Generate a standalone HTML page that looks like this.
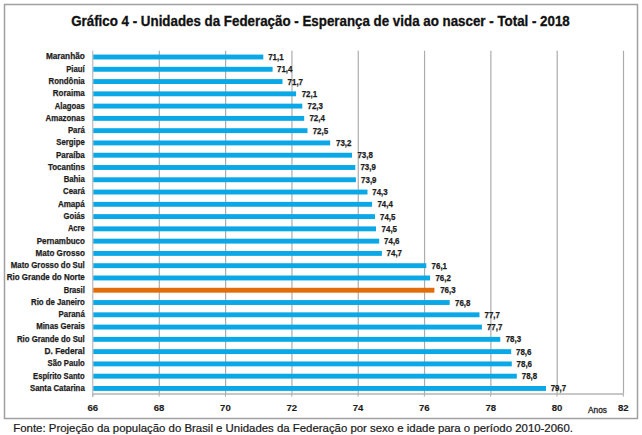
<!DOCTYPE html><html><head><meta charset="utf-8"><style>html,body{margin:0;padding:0;background:#fff;}svg{display:block;}text{font-family:"Liberation Sans",sans-serif;}</style></head><body>
<svg width="642" height="435" viewBox="0 0 642 435">
<rect x="0" y="0" width="642" height="435" fill="#fff"/>
<rect x="4.5" y="4.5" width="633" height="414" fill="none" stroke="#a0a0a0" stroke-width="1.5"/>
<text x="71.20" y="25.5" font-size="14.2" font-weight="bold" fill="#111" stroke="#111" stroke-width="0.3" textLength="498.60" lengthAdjust="spacingAndGlyphs">Gráfico 4 - Unidades da Federação - Esperança de vida ao nascer - Total - 2018</text>
<line x1="159.31" y1="50.8" x2="159.31" y2="393.7" stroke="#acacac" stroke-width="1.2"/>
<line x1="225.62" y1="50.8" x2="225.62" y2="393.7" stroke="#acacac" stroke-width="1.2"/>
<line x1="291.94" y1="50.8" x2="291.94" y2="393.7" stroke="#acacac" stroke-width="1.2"/>
<line x1="358.25" y1="50.8" x2="358.25" y2="393.7" stroke="#acacac" stroke-width="1.2"/>
<line x1="424.56" y1="50.8" x2="424.56" y2="393.7" stroke="#acacac" stroke-width="1.2"/>
<line x1="490.88" y1="50.8" x2="490.88" y2="393.7" stroke="#acacac" stroke-width="1.2"/>
<line x1="557.19" y1="50.8" x2="557.19" y2="393.7" stroke="#acacac" stroke-width="1.2"/>
<line x1="623.50" y1="50.8" x2="623.50" y2="393.7" stroke="#acacac" stroke-width="1.2"/>
<line x1="92.8" y1="50.8" x2="92.8" y2="396.7" stroke="#acacac" stroke-width="1"/>
<line x1="92.8" y1="394.0" x2="623.3" y2="394.0" stroke="#b4b4b4" stroke-width="1.6"/>
<line x1="92.80" y1="393.7" x2="92.80" y2="396.7" stroke="#acacac" stroke-width="1"/>
<line x1="159.11" y1="393.7" x2="159.11" y2="396.7" stroke="#acacac" stroke-width="1"/>
<line x1="225.43" y1="393.7" x2="225.43" y2="396.7" stroke="#acacac" stroke-width="1"/>
<line x1="291.74" y1="393.7" x2="291.74" y2="396.7" stroke="#acacac" stroke-width="1"/>
<line x1="358.05" y1="393.7" x2="358.05" y2="396.7" stroke="#acacac" stroke-width="1"/>
<line x1="424.36" y1="393.7" x2="424.36" y2="396.7" stroke="#acacac" stroke-width="1"/>
<line x1="490.68" y1="393.7" x2="490.68" y2="396.7" stroke="#acacac" stroke-width="1"/>
<line x1="556.99" y1="393.7" x2="556.99" y2="396.7" stroke="#acacac" stroke-width="1"/>
<line x1="623.30" y1="393.7" x2="623.30" y2="396.7" stroke="#acacac" stroke-width="1"/>
<rect x="93.30" y="54.55" width="170.00" height="4.9" fill="#0aa8e6"/>
<rect x="93.30" y="66.83" width="179.30" height="4.9" fill="#0aa8e6"/>
<rect x="93.30" y="79.10" width="189.20" height="4.9" fill="#0aa8e6"/>
<rect x="93.30" y="91.38" width="202.80" height="4.9" fill="#0aa8e6"/>
<rect x="93.30" y="103.65" width="209.00" height="4.9" fill="#0aa8e6"/>
<rect x="93.30" y="115.93" width="210.90" height="4.9" fill="#0aa8e6"/>
<rect x="93.30" y="128.21" width="214.20" height="4.9" fill="#0aa8e6"/>
<rect x="93.30" y="140.48" width="236.90" height="4.9" fill="#0aa8e6"/>
<rect x="93.30" y="152.76" width="258.70" height="4.9" fill="#0aa8e6"/>
<rect x="93.30" y="165.03" width="262.00" height="4.9" fill="#0aa8e6"/>
<rect x="93.30" y="177.31" width="262.60" height="4.9" fill="#0aa8e6"/>
<rect x="93.30" y="189.59" width="274.20" height="4.9" fill="#0aa8e6"/>
<rect x="93.30" y="201.86" width="278.80" height="4.9" fill="#0aa8e6"/>
<rect x="93.30" y="214.14" width="281.70" height="4.9" fill="#0aa8e6"/>
<rect x="93.30" y="226.41" width="282.70" height="4.9" fill="#0aa8e6"/>
<rect x="93.30" y="238.69" width="285.90" height="4.9" fill="#0aa8e6"/>
<rect x="93.30" y="250.97" width="288.60" height="4.9" fill="#0aa8e6"/>
<rect x="93.30" y="263.24" width="333.00" height="4.9" fill="#0aa8e6"/>
<rect x="93.30" y="275.52" width="336.80" height="4.9" fill="#0aa8e6"/>
<rect x="93.30" y="287.79" width="341.10" height="4.9" fill="#e36c0a"/>
<rect x="93.30" y="300.07" width="356.40" height="4.9" fill="#0aa8e6"/>
<rect x="93.30" y="312.35" width="386.20" height="4.9" fill="#0aa8e6"/>
<rect x="93.30" y="324.62" width="388.60" height="4.9" fill="#0aa8e6"/>
<rect x="93.30" y="336.90" width="407.00" height="4.9" fill="#0aa8e6"/>
<rect x="93.30" y="349.17" width="417.90" height="4.9" fill="#0aa8e6"/>
<rect x="93.30" y="361.45" width="418.50" height="4.9" fill="#0aa8e6"/>
<rect x="93.30" y="373.73" width="423.50" height="4.9" fill="#0aa8e6"/>
<rect x="93.30" y="386.00" width="452.70" height="4.9" fill="#0aa8e6"/>
<text x="45.90" y="59.40" font-size="8.7" font-weight="bold" fill="#1c1c1c" stroke="#1c1c1c" stroke-width="0.25" textLength="38.89" lengthAdjust="spacingAndGlyphs">Maranhão</text>
<text x="66.20" y="71.68" font-size="8.7" font-weight="bold" fill="#1c1c1c" stroke="#1c1c1c" stroke-width="0.25" textLength="18.41" lengthAdjust="spacingAndGlyphs">Piauí</text>
<text x="48.60" y="83.95" font-size="8.7" font-weight="bold" fill="#1c1c1c" stroke="#1c1c1c" stroke-width="0.25" textLength="36.13" lengthAdjust="spacingAndGlyphs">Rondônia</text>
<text x="52.80" y="96.23" font-size="8.7" font-weight="bold" fill="#1c1c1c" stroke="#1c1c1c" stroke-width="0.25" textLength="31.93" lengthAdjust="spacingAndGlyphs">Roraima</text>
<text x="54.80" y="108.50" font-size="8.7" font-weight="bold" fill="#1c1c1c" stroke="#1c1c1c" stroke-width="0.25" textLength="30.00" lengthAdjust="spacingAndGlyphs">Alagoas</text>
<text x="45.50" y="120.78" font-size="8.7" font-weight="bold" fill="#1c1c1c" stroke="#1c1c1c" stroke-width="0.25" textLength="39.31" lengthAdjust="spacingAndGlyphs">Amazonas</text>
<text x="67.90" y="133.06" font-size="8.7" font-weight="bold" fill="#1c1c1c" stroke="#1c1c1c" stroke-width="0.25" textLength="16.89" lengthAdjust="spacingAndGlyphs">Pará</text>
<text x="56.30" y="145.33" font-size="8.7" font-weight="bold" fill="#1c1c1c" stroke="#1c1c1c" stroke-width="0.25" textLength="28.48" lengthAdjust="spacingAndGlyphs">Sergipe</text>
<text x="55.90" y="157.61" font-size="8.7" font-weight="bold" fill="#1c1c1c" stroke="#1c1c1c" stroke-width="0.25" textLength="28.85" lengthAdjust="spacingAndGlyphs">Paraíba</text>
<text x="48.00" y="169.88" font-size="8.7" font-weight="bold" fill="#1c1c1c" stroke="#1c1c1c" stroke-width="0.25" textLength="36.79" lengthAdjust="spacingAndGlyphs">Tocantins</text>
<text x="63.70" y="182.16" font-size="8.7" font-weight="bold" fill="#1c1c1c" stroke="#1c1c1c" stroke-width="0.25" textLength="21.05" lengthAdjust="spacingAndGlyphs">Bahia</text>
<text x="63.10" y="194.44" font-size="8.7" font-weight="bold" fill="#1c1c1c" stroke="#1c1c1c" stroke-width="0.25" textLength="21.66" lengthAdjust="spacingAndGlyphs">Ceará</text>
<text x="57.90" y="206.71" font-size="8.7" font-weight="bold" fill="#1c1c1c" stroke="#1c1c1c" stroke-width="0.25" textLength="26.86" lengthAdjust="spacingAndGlyphs">Amapá</text>
<text x="63.50" y="218.99" font-size="8.7" font-weight="bold" fill="#1c1c1c" stroke="#1c1c1c" stroke-width="0.25" textLength="21.29" lengthAdjust="spacingAndGlyphs">Goiás</text>
<text x="67.90" y="231.26" font-size="8.7" font-weight="bold" fill="#1c1c1c" stroke="#1c1c1c" stroke-width="0.25" textLength="16.89" lengthAdjust="spacingAndGlyphs">Acre</text>
<text x="36.80" y="243.54" font-size="8.7" font-weight="bold" fill="#1c1c1c" stroke="#1c1c1c" stroke-width="0.25" textLength="48.02" lengthAdjust="spacingAndGlyphs">Pernambuco</text>
<text x="35.60" y="255.82" font-size="8.7" font-weight="bold" fill="#1c1c1c" stroke="#1c1c1c" stroke-width="0.25" textLength="49.22" lengthAdjust="spacingAndGlyphs">Mato Grosso</text>
<text x="10.80" y="268.09" font-size="8.7" font-weight="bold" fill="#1c1c1c" stroke="#1c1c1c" stroke-width="0.25" textLength="74.00" lengthAdjust="spacingAndGlyphs">Mato Grosso do Sul</text>
<text x="6.80" y="280.37" font-size="8.7" font-weight="bold" fill="#1c1c1c" stroke="#1c1c1c" stroke-width="0.25" textLength="77.99" lengthAdjust="spacingAndGlyphs">Rio Grande do Norte</text>
<text x="63.70" y="292.64" font-size="8.7" font-weight="bold" fill="#1c1c1c" stroke="#1c1c1c" stroke-width="0.25" textLength="21.09" lengthAdjust="spacingAndGlyphs">Brasil</text>
<text x="31.00" y="304.92" font-size="8.7" font-weight="bold" fill="#1c1c1c" stroke="#1c1c1c" stroke-width="0.25" textLength="53.81" lengthAdjust="spacingAndGlyphs">Rio de Janeiro</text>
<text x="58.60" y="317.20" font-size="8.7" font-weight="bold" fill="#1c1c1c" stroke="#1c1c1c" stroke-width="0.25" textLength="26.17" lengthAdjust="spacingAndGlyphs">Paraná</text>
<text x="36.20" y="329.47" font-size="8.7" font-weight="bold" fill="#1c1c1c" stroke="#1c1c1c" stroke-width="0.25" textLength="48.60" lengthAdjust="spacingAndGlyphs">Minas Gerais</text>
<text x="17.00" y="341.75" font-size="8.7" font-weight="bold" fill="#1c1c1c" stroke="#1c1c1c" stroke-width="0.25" textLength="67.78" lengthAdjust="spacingAndGlyphs">Rio Grande do Sul</text>
<text x="44.50" y="354.02" font-size="8.7" font-weight="bold" fill="#1c1c1c" stroke="#1c1c1c" stroke-width="0.25" textLength="40.30" lengthAdjust="spacingAndGlyphs">D. Federal</text>
<text x="47.60" y="366.30" font-size="8.7" font-weight="bold" fill="#1c1c1c" stroke="#1c1c1c" stroke-width="0.25" textLength="37.20" lengthAdjust="spacingAndGlyphs">São Paulo</text>
<text x="33.10" y="378.58" font-size="8.7" font-weight="bold" fill="#1c1c1c" stroke="#1c1c1c" stroke-width="0.25" textLength="51.69" lengthAdjust="spacingAndGlyphs">Espírito Santo</text>
<text x="30.00" y="390.85" font-size="8.7" font-weight="bold" fill="#1c1c1c" stroke="#1c1c1c" stroke-width="0.25" textLength="54.74" lengthAdjust="spacingAndGlyphs">Santa Catarina</text>
<text x="268.20" y="60.00" font-size="8.6" font-weight="bold" fill="#1c1c1c" stroke="#1c1c1c" stroke-width="0.25" textLength="15.40" lengthAdjust="spacingAndGlyphs">71,1</text>
<text x="277.00" y="72.28" font-size="8.6" font-weight="bold" fill="#1c1c1c" stroke="#1c1c1c" stroke-width="0.25" textLength="15.40" lengthAdjust="spacingAndGlyphs">71,4</text>
<text x="287.60" y="84.55" font-size="8.6" font-weight="bold" fill="#1c1c1c" stroke="#1c1c1c" stroke-width="0.25" textLength="15.40" lengthAdjust="spacingAndGlyphs">71,7</text>
<text x="301.70" y="96.83" font-size="8.6" font-weight="bold" fill="#1c1c1c" stroke="#1c1c1c" stroke-width="0.25" textLength="15.40" lengthAdjust="spacingAndGlyphs">72,1</text>
<text x="307.50" y="109.10" font-size="8.6" font-weight="bold" fill="#1c1c1c" stroke="#1c1c1c" stroke-width="0.25" textLength="15.40" lengthAdjust="spacingAndGlyphs">72,3</text>
<text x="309.40" y="121.38" font-size="8.6" font-weight="bold" fill="#1c1c1c" stroke="#1c1c1c" stroke-width="0.25" textLength="15.40" lengthAdjust="spacingAndGlyphs">72,4</text>
<text x="312.70" y="133.66" font-size="8.6" font-weight="bold" fill="#1c1c1c" stroke="#1c1c1c" stroke-width="0.25" textLength="15.40" lengthAdjust="spacingAndGlyphs">72,5</text>
<text x="336.00" y="145.93" font-size="8.6" font-weight="bold" fill="#1c1c1c" stroke="#1c1c1c" stroke-width="0.25" textLength="15.40" lengthAdjust="spacingAndGlyphs">73,2</text>
<text x="357.40" y="158.21" font-size="8.6" font-weight="bold" fill="#1c1c1c" stroke="#1c1c1c" stroke-width="0.25" textLength="15.40" lengthAdjust="spacingAndGlyphs">73,8</text>
<text x="360.40" y="170.48" font-size="8.6" font-weight="bold" fill="#1c1c1c" stroke="#1c1c1c" stroke-width="0.25" textLength="15.40" lengthAdjust="spacingAndGlyphs">73,9</text>
<text x="361.10" y="182.76" font-size="8.6" font-weight="bold" fill="#1c1c1c" stroke="#1c1c1c" stroke-width="0.25" textLength="15.40" lengthAdjust="spacingAndGlyphs">73,9</text>
<text x="372.30" y="195.04" font-size="8.6" font-weight="bold" fill="#1c1c1c" stroke="#1c1c1c" stroke-width="0.25" textLength="15.40" lengthAdjust="spacingAndGlyphs">74,3</text>
<text x="377.40" y="207.31" font-size="8.6" font-weight="bold" fill="#1c1c1c" stroke="#1c1c1c" stroke-width="0.25" textLength="15.40" lengthAdjust="spacingAndGlyphs">74,4</text>
<text x="380.00" y="219.59" font-size="8.6" font-weight="bold" fill="#1c1c1c" stroke="#1c1c1c" stroke-width="0.25" textLength="15.40" lengthAdjust="spacingAndGlyphs">74,5</text>
<text x="381.60" y="231.86" font-size="8.6" font-weight="bold" fill="#1c1c1c" stroke="#1c1c1c" stroke-width="0.25" textLength="15.40" lengthAdjust="spacingAndGlyphs">74,5</text>
<text x="384.10" y="244.14" font-size="8.6" font-weight="bold" fill="#1c1c1c" stroke="#1c1c1c" stroke-width="0.25" textLength="15.40" lengthAdjust="spacingAndGlyphs">74,6</text>
<text x="386.60" y="256.42" font-size="8.6" font-weight="bold" fill="#1c1c1c" stroke="#1c1c1c" stroke-width="0.25" textLength="15.40" lengthAdjust="spacingAndGlyphs">74,7</text>
<text x="431.60" y="268.69" font-size="8.6" font-weight="bold" fill="#1c1c1c" stroke="#1c1c1c" stroke-width="0.25" textLength="15.40" lengthAdjust="spacingAndGlyphs">76,1</text>
<text x="435.40" y="280.97" font-size="8.6" font-weight="bold" fill="#1c1c1c" stroke="#1c1c1c" stroke-width="0.25" textLength="15.40" lengthAdjust="spacingAndGlyphs">76,2</text>
<text x="440.20" y="293.24" font-size="8.6" font-weight="bold" fill="#1c1c1c" stroke="#1c1c1c" stroke-width="0.25" textLength="15.40" lengthAdjust="spacingAndGlyphs">76,3</text>
<text x="455.00" y="305.52" font-size="8.6" font-weight="bold" fill="#1c1c1c" stroke="#1c1c1c" stroke-width="0.25" textLength="15.40" lengthAdjust="spacingAndGlyphs">76,8</text>
<text x="484.50" y="317.80" font-size="8.6" font-weight="bold" fill="#1c1c1c" stroke="#1c1c1c" stroke-width="0.25" textLength="15.40" lengthAdjust="spacingAndGlyphs">77,7</text>
<text x="486.90" y="330.07" font-size="8.6" font-weight="bold" fill="#1c1c1c" stroke="#1c1c1c" stroke-width="0.25" textLength="15.40" lengthAdjust="spacingAndGlyphs">77,7</text>
<text x="505.70" y="342.35" font-size="8.6" font-weight="bold" fill="#1c1c1c" stroke="#1c1c1c" stroke-width="0.25" textLength="15.40" lengthAdjust="spacingAndGlyphs">78,3</text>
<text x="516.00" y="354.62" font-size="8.6" font-weight="bold" fill="#1c1c1c" stroke="#1c1c1c" stroke-width="0.25" textLength="15.40" lengthAdjust="spacingAndGlyphs">78,6</text>
<text x="516.60" y="366.90" font-size="8.6" font-weight="bold" fill="#1c1c1c" stroke="#1c1c1c" stroke-width="0.25" textLength="15.40" lengthAdjust="spacingAndGlyphs">78,6</text>
<text x="521.80" y="379.18" font-size="8.6" font-weight="bold" fill="#1c1c1c" stroke="#1c1c1c" stroke-width="0.25" textLength="15.40" lengthAdjust="spacingAndGlyphs">78,8</text>
<text x="550.70" y="391.45" font-size="8.6" font-weight="bold" fill="#1c1c1c" stroke="#1c1c1c" stroke-width="0.25" textLength="15.40" lengthAdjust="spacingAndGlyphs">79,7</text>
<text x="87.50" y="410.6" font-size="9.9" font-weight="bold" fill="#1c1c1c" stroke="#1c1c1c" stroke-width="0.15" textLength="10.62" lengthAdjust="spacingAndGlyphs">66</text>
<text x="153.81" y="410.6" font-size="9.9" font-weight="bold" fill="#1c1c1c" stroke="#1c1c1c" stroke-width="0.15" textLength="10.62" lengthAdjust="spacingAndGlyphs">68</text>
<text x="220.12" y="410.6" font-size="9.9" font-weight="bold" fill="#1c1c1c" stroke="#1c1c1c" stroke-width="0.15" textLength="10.62" lengthAdjust="spacingAndGlyphs">70</text>
<text x="286.44" y="410.6" font-size="9.9" font-weight="bold" fill="#1c1c1c" stroke="#1c1c1c" stroke-width="0.15" textLength="10.62" lengthAdjust="spacingAndGlyphs">72</text>
<text x="352.75" y="410.6" font-size="9.9" font-weight="bold" fill="#1c1c1c" stroke="#1c1c1c" stroke-width="0.15" textLength="10.62" lengthAdjust="spacingAndGlyphs">74</text>
<text x="419.06" y="410.6" font-size="9.9" font-weight="bold" fill="#1c1c1c" stroke="#1c1c1c" stroke-width="0.15" textLength="10.62" lengthAdjust="spacingAndGlyphs">76</text>
<text x="485.38" y="410.6" font-size="9.9" font-weight="bold" fill="#1c1c1c" stroke="#1c1c1c" stroke-width="0.15" textLength="10.62" lengthAdjust="spacingAndGlyphs">78</text>
<text x="551.69" y="410.6" font-size="9.9" font-weight="bold" fill="#1c1c1c" stroke="#1c1c1c" stroke-width="0.15" textLength="10.62" lengthAdjust="spacingAndGlyphs">80</text>
<text x="618.00" y="410.6" font-size="9.9" font-weight="bold" fill="#1c1c1c" stroke="#1c1c1c" stroke-width="0.15" textLength="10.62" lengthAdjust="spacingAndGlyphs">82</text>
<text x="588.00" y="412.6" font-size="9.0" fill="#1c1c1c" stroke="#1c1c1c" stroke-width="0.3" textLength="18.89" lengthAdjust="spacingAndGlyphs">Anos</text>
<text x="13.30" y="432.2" font-size="11.4" fill="#1a1a1a" stroke="#1a1a1a" stroke-width="0.22" textLength="559.61" lengthAdjust="spacingAndGlyphs">Fonte: Projeção da população do Brasil e Unidades da Federação por sexo e idade para o período 2010-2060.</text>
</svg></body></html>
